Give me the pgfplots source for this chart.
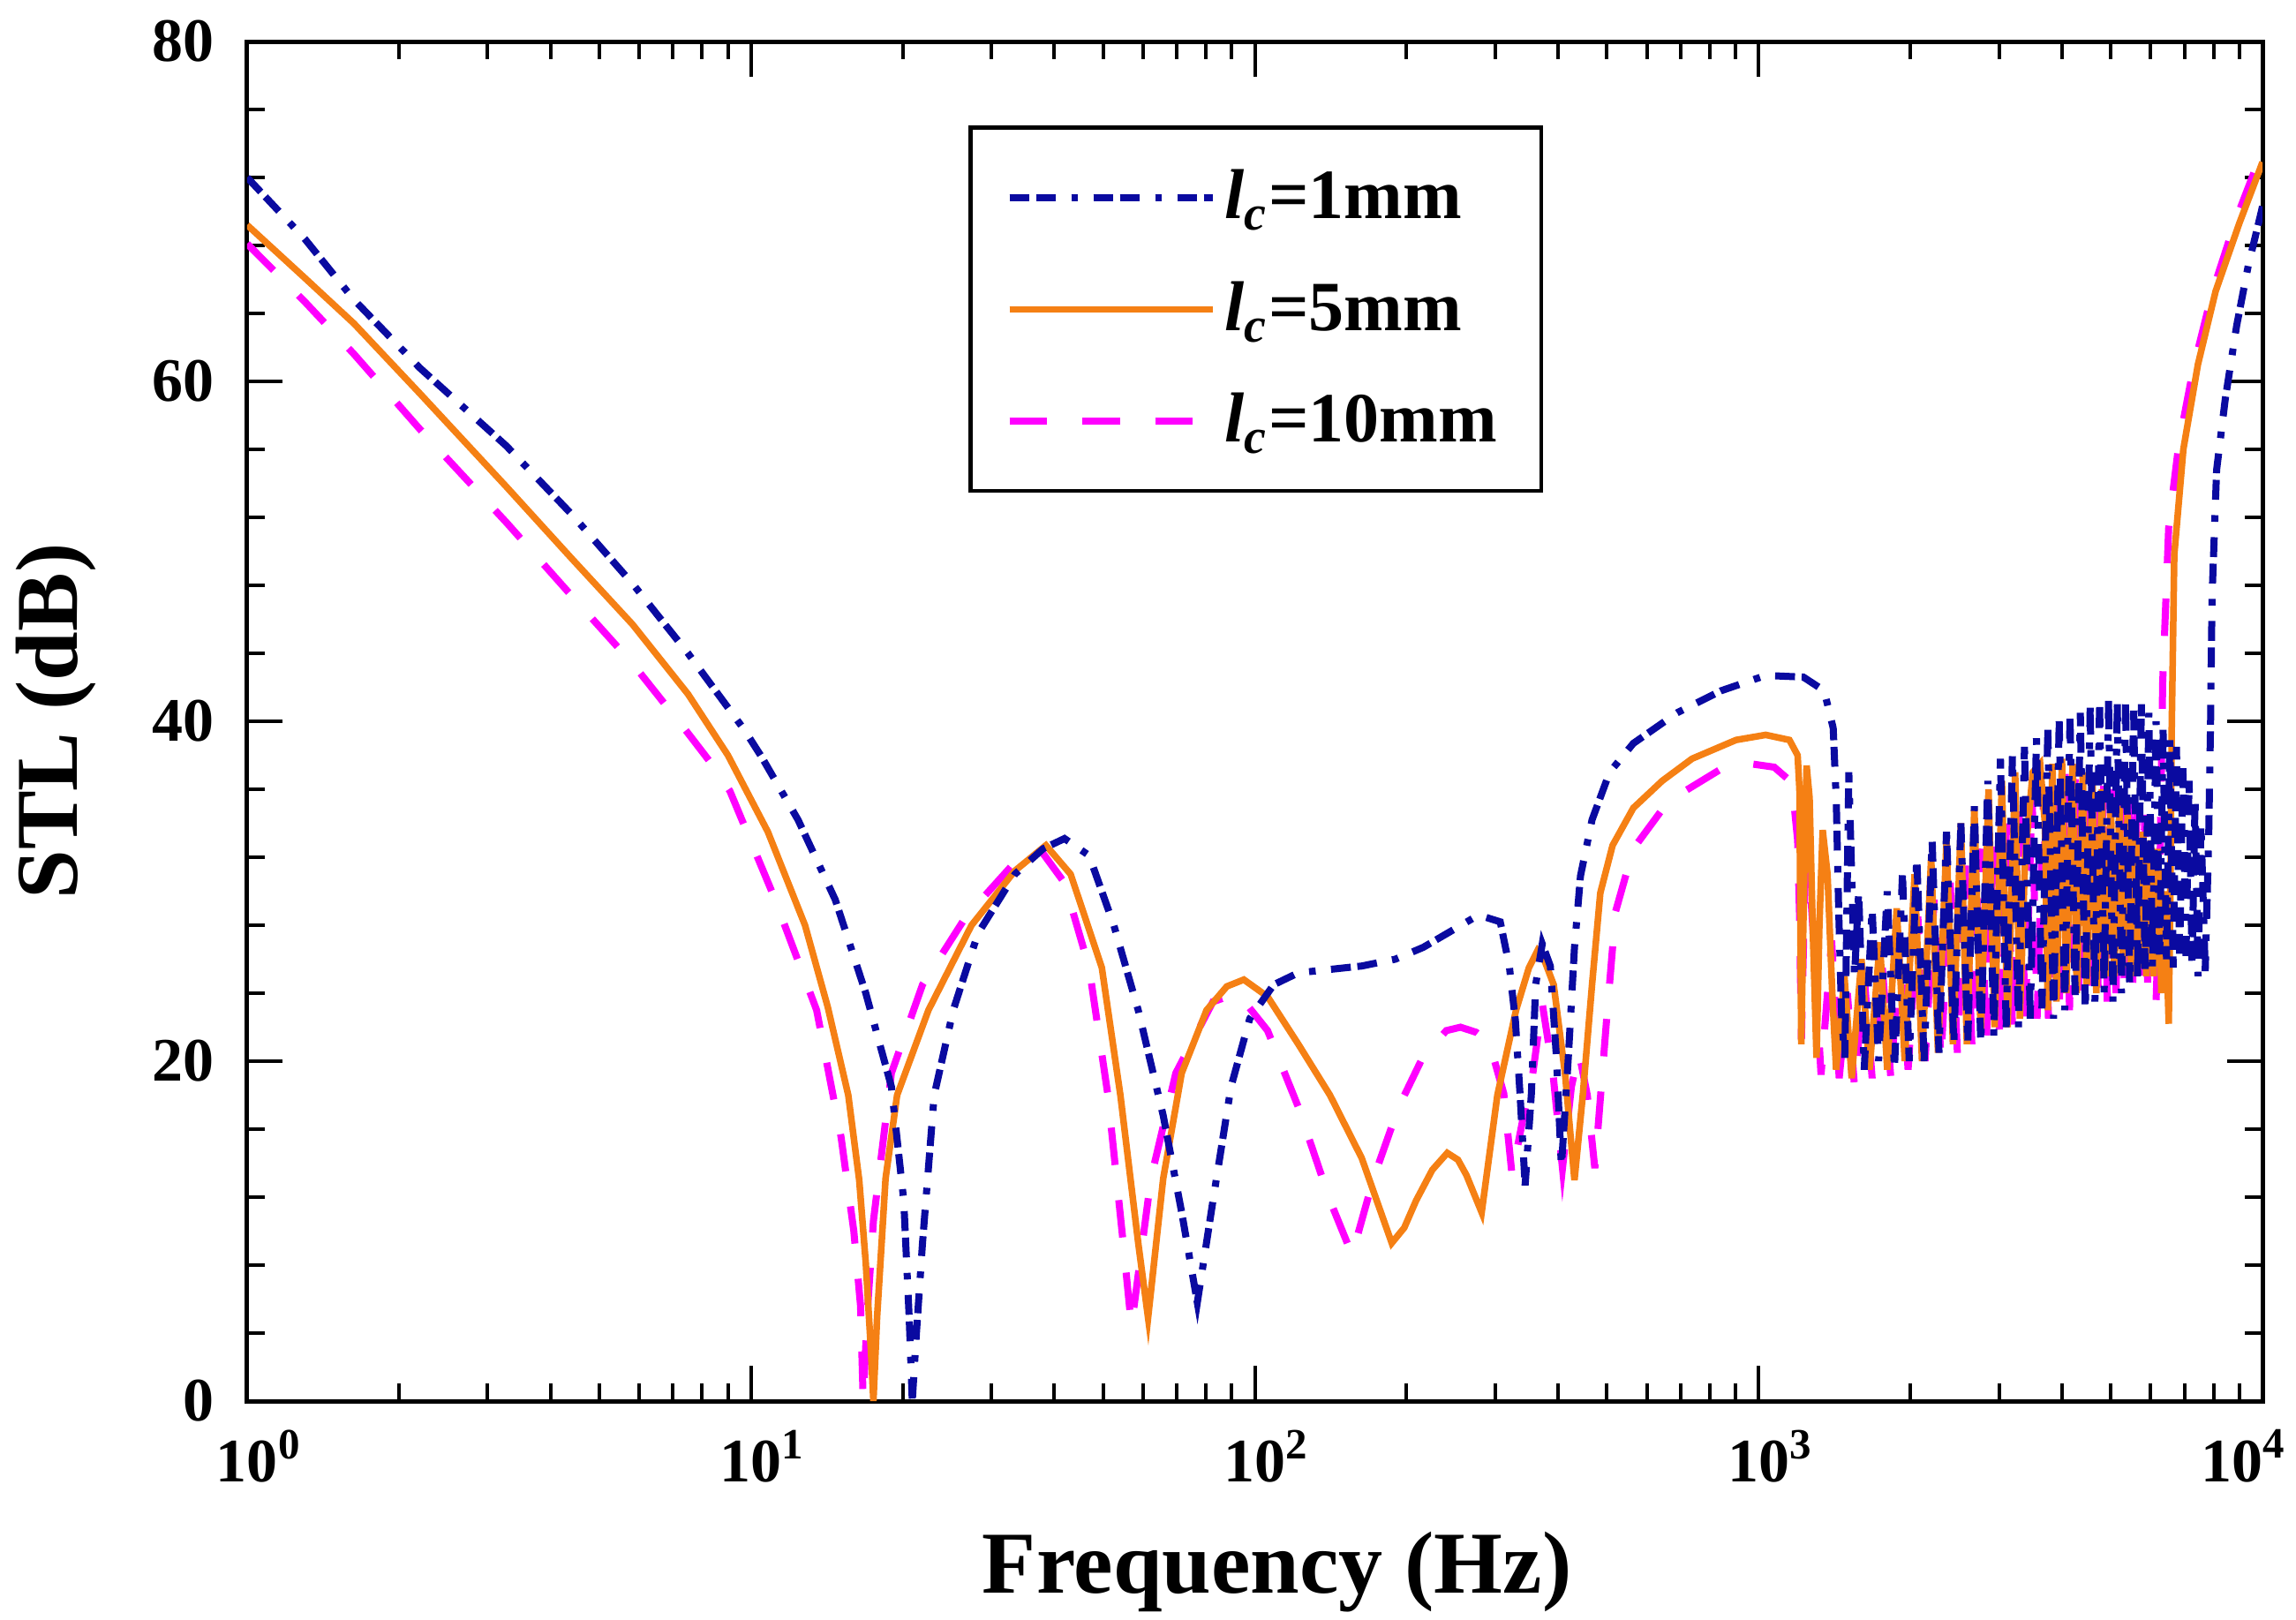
\documentclass[border=0pt]{standalone}
\usepackage{fontspec}
\setmainfont{Liberation Serif}
\usepackage{pgfplots}
\pgfplotsset{compat=1.18}
\definecolor{lcone}{RGB}{10,10,160}
\definecolor{lcfive}{RGB}{245,128,20}
\definecolor{lcten}{RGB}{255,0,255}
\begin{document}
\begin{tikzpicture}
\begin{axis}[
  name=ax,
  scale only axis, width=456.6pt, height=308pt,
  xmode=log, xmin=1, xmax=10000, ymin=0, ymax=80,
  xtick={1,10,100,1000,10000},
  xticklabels={10\rlap{\textsuperscript{0}},10\rlap{\textsuperscript{1}},10\rlap{\textsuperscript{2}},10\rlap{\textsuperscript{3}},\llap{10}\rlap{\textsuperscript{4}}},
  ytick={0,20,40,60,80}, yticklabels={0,20,40,60,80},
  minor y tick num=4,
  tick align=inside,
  major tick length=8pt, minor tick length=4pt,
  every tick/.style={black, line width=0.8pt},
  axis line style={line width=1pt},
  ticklabel style={font=\bfseries\fontsize{14}{16}\selectfont},
  xticklabel style={yshift=-3pt},
  yticklabel style={xshift=-4pt},
  xlabel={Frequency (Hz)}, ylabel={STL (dB)},
  label style={font=\bfseries\fontsize{20}{24}\selectfont},
  xlabel style={at={(rel axis cs:0.511,0)}, anchor=north, yshift=-26pt},
  ylabel style={at={(rel axis cs:0,0.5)}, anchor=center, yshift=43.3pt},
  reverse legend,
  legend cell align=left,
  legend image code/.code={\path (0pt,0pt) -- (46pt,0pt); \draw[#1] (0pt,0pt) -- (37pt,0pt);},
  legend style={at={(rel axis cs:0.358,0.938)}, anchor=north west, draw=black, line width=0.9pt,
    font=\bfseries\fontsize{16}{19}\selectfont, inner xsep=8pt, inner ysep=7.5pt, row sep=8.7pt},
]
% l_c = 10 mm
\addplot[lcten, line width=1.6pt, dash pattern=on 8.5pt off 8pt] coordinates {
(1,68.1) (1.3,64.7) (1.63,61.6) (2.2,57.2) (3.27,51.7) (4.4,47.4) (5.82,43.4) (7.5,39.3) (8.4,37.4) (9.08,35.9)
(11.1,29.7) (13.5,23.0) (15.1,15.5) (16.0,10) (16.5,5.6) (16.7,0) (17.0,5) (17.5,10.6) (19.0,19.3) (21.9,24.5)
(26.7,28.5) (33.4,31.7) (37.4,32.5) (41.9,30.5) (46.9,25.5) (51.1,18.0) (54.8,9.3) (56.9,4.4) (62.2,13.1) (69.7,19.3)
(82.6,23.5) (92.5,24.0) (106,21.8) (122,17.3) (141,11.8) (156,8.6) (172,13.1) (193,17.3) (216,20.3) (240,21.8)
(256,22.0) (275,21.7) (292,21.1) (312,18.1) (324,13.3) (340,16.5) (356,19.2) (372,23.4) (390,19.5) (408,13.7)
(425,18.5) (440,20.5) (457,18) (473,13.7) (499,22.4) (520,28.8) (564,32.5) (662,35.3) (843,37.2) (964,37.5)
(1074,37.3) (1164,36.4) (1195,33) (1205,28.8) (1216,21.3) (1230,28) (1245,33.6) (1280,28) (1330,19.2) (1396,27.1)
(1445,19.0) (1500,24) (1550,18.5) (1620,25) (1680,19) (1760,25.5) (1830,19) (1910,27) (1980,19.5) (2070,28.5)
(2140,20) (2230,29.5) (2300,20) (2400,30.5) (2480,20.5) (2570,31.5) (2650,21) (2750,32.5) (2830,21) (2930,33.5)
(3010,21.5) (3110,34.5) (3190,22) (3300,35.5) (3380,22) (3490,35.7) (3570,22.5) (3680,36) (3760,22.5) (3870,36.5)
(3950,23) (4060,36.9) (4140,23) (4250,36.8) (4330,23.5) (4440,36.5) (4520,23.5) (4640,36.3) (4720,24) (4840,36.2)
(4920,23.5) (5040,36) (5120,24) (5240,36) (5320,24.5) (5440,35.5) (5520,24) (5640,35) (5720,24.5) (5840,34.5)
(5920,24) (6040,33) (6150,23.5) (6250,30) (6339,42.3) (6516,51.5) (6823,56.3) (7295,60.8) (7962,65.3) (8851,69.5)
(9886,73.2) (10000,73.5)
};
\addlegendentry{\textit{l}\textsubscript{\textit{c}}=10mm}
% l_c = 5 mm
\addplot[lcfive, line width=1.5pt] coordinates {
(1,69.2) (1.3,66.1) (1.63,63.4) (2.2,59.3) (3.27,53.8) (4.4,49.6) (5.82,45.7) (7.5,41.6) (9,38.0) (10.8,33.5)
(12.8,28.0) (14.2,23.2) (15.6,18.0) (16.4,13) (16.9,8.1) (17.3,3) (17.5,0) (17.8,5) (18.5,13.1) (19.5,18.0)
(22.5,23.0) (27.4,28.0) (33.4,31.2) (38.5,32.7) (43.1,31.0) (49.7,25.5) (54.1,18.0) (58.7,9.3) (61.4,4.9) (65.8,13.1)
(71.6,19.3) (80.2,23.0) (88,24.4) (95.1,24.8) (106,23.8) (122,21.0) (141,18.0) (163,14.3) (187,9.3) (198,10.2)
(209,11.8) (225,13.6) (241,14.6) (253,14.2) (263,13.3) (282,11.1) (303,18.0) (330,23.0) (350,25.5) (364,26.5)
(375,26.0) (392,24.5) (413,19.2) (431,13.0) (448,18.1) (467,24.5) (485,29.9) (513,32.7) (564,34.9) (644,36.5)
(738,37.8) (902,38.9) (1033,39.2) (1151,38.9) (1195,38.0) (1205,36) (1215,21) (1230,30) (1245,37.4) (1262,35.5)
(1280,28) (1303,20.2) (1320,28) (1340,33.6) (1370,31) (1400,24) (1425,19.5) (1480,25) (1530,19) (1600,26)
(1660,19.5) (1740,27) (1800,19.5) (1880,29) (1950,20) (2040,31) (2110,20) (2200,32) (2270,20.5) (2360,33)
(2430,21) (2520,34) (2590,21) (2680,35) (2760,21.5) (2860,36) (2940,22) (3040,36.5) (3120,22) (3230,37)
(3300,22.5) (3380,32) (3500,37) (3620,37.5) (3700,34) (3750,23) (3830,37.5) (3900,23.5) (4000,37.8) (4080,24)
(4200,37.5) (4280,24) (4400,37) (4480,24.5) (4600,36.5) (4680,24) (4800,36) (4880,25) (5000,35.5) (5080,25)
(5200,35) (5280,25.5) (5400,34.5) (5480,25) (5600,34) (5680,25.5) (5800,33.5) (5880,25) (6000,33) (6080,25)
(6200,32.5) (6300,24) (6400,30) (6516,22.2) (6570,31) (6607,39.8) (6683,49.8) (6966,56.0) (7447,61.0) (8072,65.3)
(8995,69.3) (9886,72.5) (10000,72.9)
};
\addlegendentry{\textit{l}\textsubscript{\textit{c}}=5mm}
% l_c = 1 mm
\addplot[lcone, line width=1.6pt, dash pattern=on 4.5pt off 1.5pt on 4.5pt off 3.5pt on 1.5pt off 3.5pt] coordinates {
(1,72.0) (1.3,68.4) (1.63,64.8) (2.2,60.8) (3.27,56.2) (4.4,52.2) (5.82,48.1) (7.5,44.0) (9.7,39.5) (10.5,37.9)
(12.4,34.2) (14.7,29.5) (16.9,24.0) (19.0,18.5) (20.1,11.8) (20.6,5) (20.9,0) (21.3,4) (21.9,9.3) (23.1,18.0)
(25.2,23.0) (28.2,27.5) (33.4,31.0) (38,32.5) (41.9,33.1) (46.9,32.1) (52.5,28.0) (58.7,23.0) (65.8,16.8) (71.6,11.1)
(76.9,5.8) (82.6,11.8) (89.7,18.5) (97.7,22.5) (109,24.5) (122,25.2) (163,25.6) (190,26.0) (216,26.7) (250,27.8)
(278,28.6) (307,28.2) (320,25.6) (329,22.4) (336,18.1) (344,12.7) (354,18.1) (361,24.5) (372,26.9) (386,25.6)
(397,20.2) (406,13.8) (419,20.2) (431,26.7) (443,30.9) (467,34.2) (506,37.0) (564,38.7) (689,40.5) (843,41.8)
(1033,42.7) (1227,42.6) (1349,41.8) (1406,39.6) (1426,35.3) (1442,28.8) (1462,22.4) (1483,20.2) (1510,37) (1550,25)
(1580,30) (1620,19.5) (1680,29) (1730,20) (1800,30) (1860,19.5) (1930,31) (1990,20) (2060,32) (2130,20)
(2210,33) (2280,20.5) (2360,33.5) (2440,21) (2520,34) (2600,21) (2680,35) (2760,21) (2850,36.5) (2930,21.5)
(3020,37.8) (3100,22) (3190,38) (3280,22) (3370,38.5) (3460,22.5) (3560,39) (3650,23) (3750,39.5) (3850,22.5)
(3950,40) (4050,23) (4150,40.2) (4250,23.5) (4350,40.5) (4450,23) (4550,40.8) (4650,23.5) (4750,41) (4850,24)
(4950,41.2) (5050,23.5) (5150,41) (5250,24) (5350,41) (5450,24.5) (5550,41) (5650,25) (5750,41) (5850,25)
(5950,40.5) (6050,25.5) (6150,40) (6250,26) (6350,39.5) (6450,26) (6550,39) (6650,25.5) (6750,38.5) (6850,26)
(6950,37.5) (7050,26) (7150,36.5) (7250,25.5) (7350,35.5) (7450,25) (7550,34) (7700,25.3) (7820,33) (7890,40)
(7943,47.3) (8110,54.8) (8440,59.0) (8890,63.3) (9370,66.8) (9950,70.0) (10000,70.3)
};
\addlegendentry{\textit{l}\textsubscript{\textit{c}}=1mm}
\end{axis}
\pgfresetboundingbox
\path ([xshift=-56pt,yshift=-49.4pt]ax.south west) rectangle ([xshift=7.6pt,yshift=9.4pt]ax.north east);
\end{tikzpicture}
\end{document}
